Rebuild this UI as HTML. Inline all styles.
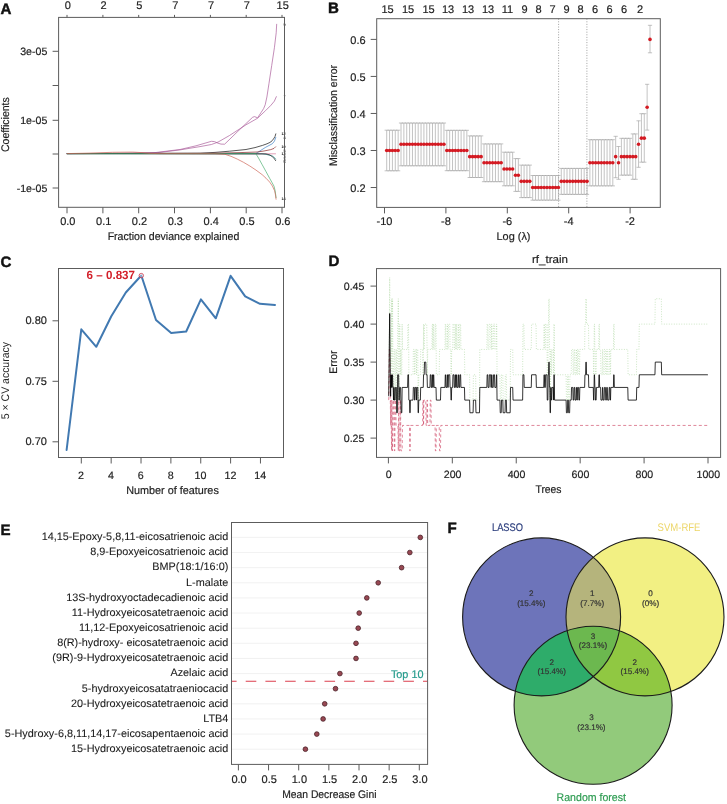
<!DOCTYPE html>
<html lang="en">
<head>
<meta charset="utf-8">
<title>Figure: feature selection by LASSO, SVM-RFE and random forest</title>
<style>
html,body{margin:0;padding:0;background:#ffffff;}
body{width:727px;height:804px;overflow:hidden;}
svg{display:block;font-family:"Liberation Sans", sans-serif;}
svg text{font-family:"Liberation Sans", sans-serif;}
</style>
</head>
<body>
<svg width="727" height="804" viewBox="0 0 727 804" shape-rendering="auto" text-rendering="geometricPrecision">
<rect x="0" y="0" width="727" height="804" fill="#ffffff"/>
<g id="panelA">
<text x="0.5" y="14.2" font-size="15.1" text-anchor="start" fill="#111" font-weight="bold" stroke="#111" stroke-width="0.45">A</text>
<line x1="67" y1="17.4" x2="67" y2="14.9" stroke="#5c5c5c" stroke-width="1"/>
<text x="67.7" y="9.1" font-size="11" text-anchor="middle" fill="#1e1e1e" stroke="#1e1e1e" stroke-width="0.18">0</text>
<line x1="102.9" y1="17.4" x2="102.9" y2="14.9" stroke="#5c5c5c" stroke-width="1"/>
<text x="103.6" y="9.1" font-size="11" text-anchor="middle" fill="#1e1e1e" stroke="#1e1e1e" stroke-width="0.18">2</text>
<line x1="138.7" y1="17.4" x2="138.7" y2="14.9" stroke="#5c5c5c" stroke-width="1"/>
<text x="139.4" y="9.1" font-size="11" text-anchor="middle" fill="#1e1e1e" stroke="#1e1e1e" stroke-width="0.18">5</text>
<line x1="174.5" y1="17.4" x2="174.5" y2="14.9" stroke="#5c5c5c" stroke-width="1"/>
<text x="175.2" y="9.1" font-size="11" text-anchor="middle" fill="#1e1e1e" stroke="#1e1e1e" stroke-width="0.18">7</text>
<line x1="210.4" y1="17.4" x2="210.4" y2="14.9" stroke="#5c5c5c" stroke-width="1"/>
<text x="211.1" y="9.1" font-size="11" text-anchor="middle" fill="#1e1e1e" stroke="#1e1e1e" stroke-width="0.18">7</text>
<line x1="246.2" y1="17.4" x2="246.2" y2="14.9" stroke="#5c5c5c" stroke-width="1"/>
<text x="246.9" y="9.1" font-size="11" text-anchor="middle" fill="#1e1e1e" stroke="#1e1e1e" stroke-width="0.18">7</text>
<line x1="282" y1="17.4" x2="282" y2="14.9" stroke="#5c5c5c" stroke-width="1"/>
<text x="282.7" y="9.1" font-size="11" text-anchor="middle" fill="#1e1e1e" stroke="#1e1e1e" stroke-width="0.18">15</text>
<line x1="67" y1="207.3" x2="67" y2="213.3" stroke="#5c5c5c" stroke-width="1"/>
<text x="67.8" y="224.8" font-size="11" text-anchor="middle" fill="#1e1e1e" stroke="#1e1e1e" stroke-width="0.18">0.0</text>
<line x1="102.9" y1="207.3" x2="102.9" y2="213.3" stroke="#5c5c5c" stroke-width="1"/>
<text x="103.7" y="224.8" font-size="11" text-anchor="middle" fill="#1e1e1e" stroke="#1e1e1e" stroke-width="0.18">0.1</text>
<line x1="138.7" y1="207.3" x2="138.7" y2="213.3" stroke="#5c5c5c" stroke-width="1"/>
<text x="139.5" y="224.8" font-size="11" text-anchor="middle" fill="#1e1e1e" stroke="#1e1e1e" stroke-width="0.18">0.2</text>
<line x1="174.5" y1="207.3" x2="174.5" y2="213.3" stroke="#5c5c5c" stroke-width="1"/>
<text x="175.3" y="224.8" font-size="11" text-anchor="middle" fill="#1e1e1e" stroke="#1e1e1e" stroke-width="0.18">0.3</text>
<line x1="210.4" y1="207.3" x2="210.4" y2="213.3" stroke="#5c5c5c" stroke-width="1"/>
<text x="211.2" y="224.8" font-size="11" text-anchor="middle" fill="#1e1e1e" stroke="#1e1e1e" stroke-width="0.18">0.4</text>
<line x1="246.2" y1="207.3" x2="246.2" y2="213.3" stroke="#5c5c5c" stroke-width="1"/>
<text x="247" y="224.8" font-size="11" text-anchor="middle" fill="#1e1e1e" stroke="#1e1e1e" stroke-width="0.18">0.5</text>
<line x1="282" y1="207.3" x2="282" y2="213.3" stroke="#5c5c5c" stroke-width="1"/>
<text x="282.8" y="224.8" font-size="11" text-anchor="middle" fill="#1e1e1e" stroke="#1e1e1e" stroke-width="0.18">0.6</text>
<line x1="58.6" y1="51.3" x2="52.6" y2="51.3" stroke="#5c5c5c" stroke-width="1"/>
<text x="47.3" y="55.1" font-size="10.6" text-anchor="end" fill="#1e1e1e" stroke="#1e1e1e" stroke-width="0.18">3e-05</text>
<line x1="58.6" y1="85.5" x2="52.6" y2="85.5" stroke="#5c5c5c" stroke-width="1"/>
<line x1="58.6" y1="120.3" x2="52.6" y2="120.3" stroke="#5c5c5c" stroke-width="1"/>
<text x="47.3" y="124.1" font-size="10.6" text-anchor="end" fill="#1e1e1e" stroke="#1e1e1e" stroke-width="0.18">1e-05</text>
<line x1="58.6" y1="154" x2="52.6" y2="154" stroke="#5c5c5c" stroke-width="1"/>
<line x1="58.6" y1="188" x2="52.6" y2="188" stroke="#5c5c5c" stroke-width="1"/>
<text x="47.3" y="191.8" font-size="10.6" text-anchor="end" fill="#1e1e1e" stroke="#1e1e1e" stroke-width="0.18">-1e-05</text>
<text x="173.5" y="239.6" font-size="11" text-anchor="middle" fill="#1e1e1e" textLength="131.7" lengthAdjust="spacingAndGlyphs" stroke="#1e1e1e" stroke-width="0.18">Fraction deviance explained</text>
<text x="9.2" y="124.6" font-size="11" text-anchor="middle" fill="#1e1e1e" transform="rotate(-90 9.2 124.6)" textLength="54.8" lengthAdjust="spacingAndGlyphs" stroke="#1e1e1e" stroke-width="0.18">Coefficients</text>
<path d="M66.8,153.6 L120,153.3 L155,152.6 L180,149.5 L196,145.8 L211.4,141.3 L214.5,141.6 L218,143.2 L221,144.1 L224.6,144.2 L231,138 L237.8,131.4 L245,124.5 L252.6,117.3 L254.5,116.6 L257.6,117.8 L261,112.6 L263.6,108.6 L265.2,104.8 L266.9,97 L269,83.3 L271.7,65.6 L274.4,47.8 L276.2,32.8 L276.7,23.9" fill="none" stroke="#ab5d9b" stroke-width="0.7" stroke-linejoin="round"/>
<path d="M66.8,153.6 L130,153.4 L158,152.6 L180,149.9 L200,146.6 L211.4,144.5 L218,142.1 L229.5,135.5 L246,124.8 L257.6,118.2 L262,114 L265.5,110.7 L271,105.2 L274.4,101.1 L276.5,96.3" fill="none" stroke="#ab5d9b" stroke-width="0.7" stroke-linejoin="round"/>
<path d="M66.8,153.6 L200,153.2 L215,152.4 L229.5,151.2 L246,149.5 L255,147.6 L262.5,145.4 L267,143.8 L270.8,142 L273.5,139 L275,136.5 L275.9,133.5" fill="none" stroke="#111111" stroke-width="0.7" stroke-linejoin="round"/>
<path d="M66.8,153.6 L256,153.4 L257.6,152.5 L262,149.6 L265.8,147.2 L269,145.5 L272.4,143.7 L274.5,141 L275.9,137" fill="none" stroke="#3f7fc4" stroke-width="0.7" stroke-linejoin="round"/>
<path d="M66.8,153.6 L210,153.3 L240,152.6 L257,152 L264,151 L270.8,149.6 L274,148.4 L275.9,146.5" fill="none" stroke="#8a2626" stroke-width="0.7" stroke-linejoin="round"/>
<path d="M66.8,153.6 L270,153.8 L275.9,153.8" fill="none" stroke="#d0608a" stroke-width="0.6" stroke-linejoin="round"/>
<path d="M66.8,153.6 L262,153.8 L267,154.6 L272.4,156 L274.5,157.5 L275.9,159.4" fill="none" stroke="#2a9490" stroke-width="0.7" stroke-linejoin="round"/>
<path d="M66.8,153.6 L266,153.9 L270,155 L273.5,157.6 L275.9,161" fill="none" stroke="#222222" stroke-width="0.7" stroke-linejoin="round"/>
<path d="M66.8,153.8 L255.8,153.6 L258.5,158 L262.2,164.7 L266,171.6 L269.7,178.4 L272,182.5 L274,186.2 L275.2,191 L276.1,198" fill="none" stroke="#40a866" stroke-width="0.65" stroke-linejoin="round"/>
<path d="M66.8,153.6 L90,153.1 L112.6,152.3 L132.7,152.1 L142,152.6 L150,153.4 L160,153.6 L215,153.7 L224.9,154.3 L231,156.3 L237.3,159.1 L243.5,162.3 L249.8,166 L256,170.1 L262.2,174.7 L266,178.2 L269.7,182.1 L272.4,186 L274.6,190.8 L275.5,195 L276.1,199.6" fill="none" stroke="#cf6658" stroke-width="0.7" stroke-linejoin="round"/>
<text x="285.7" y="25.9" font-size="3.8" text-anchor="end" fill="#1e1e1e" font-weight="bold">9</text>
<text x="285.7" y="98.4" font-size="3.8" text-anchor="end" fill="#1e1e1e" font-weight="bold">7</text>
<text x="285.7" y="134.9" font-size="3.8" text-anchor="end" fill="#1e1e1e" font-weight="bold">12</text>
<text x="285.7" y="138.9" font-size="3.8" text-anchor="end" fill="#1e1e1e" font-weight="bold">4</text>
<text x="285.7" y="147.9" font-size="3.8" text-anchor="end" fill="#1e1e1e" font-weight="bold">10</text>
<text x="285.7" y="152.4" font-size="3.8" text-anchor="end" fill="#1e1e1e" font-weight="bold">5</text>
<text x="285.7" y="155" font-size="3.8" text-anchor="end" fill="#1e1e1e" font-weight="bold">13</text>
<text x="285.7" y="157.9" font-size="3.8" text-anchor="end" fill="#1e1e1e" font-weight="bold">3</text>
<text x="285.7" y="160.9" font-size="3.8" text-anchor="end" fill="#1e1e1e" font-weight="bold">2</text>
<text x="285.7" y="163.4" font-size="3.8" text-anchor="end" fill="#1e1e1e" font-weight="bold">6</text>
<text x="285.7" y="200.4" font-size="3.8" text-anchor="end" fill="#1e1e1e" font-weight="bold">14</text>
<rect x="58.6" y="17.4" width="225.9" height="189.9" fill="none" stroke="#5c5c5c" stroke-width="1"/>
</g>
<g id="panelB">
<text x="328" y="13.2" font-size="15.1" text-anchor="start" fill="#111" font-weight="bold" stroke="#111" stroke-width="0.45">B</text>
<text x="387.5" y="13.2" font-size="11" text-anchor="middle" fill="#1e1e1e" stroke="#1e1e1e" stroke-width="0.18">15</text>
<text x="408" y="13.2" font-size="11" text-anchor="middle" fill="#1e1e1e" stroke="#1e1e1e" stroke-width="0.18">15</text>
<text x="428.5" y="13.2" font-size="11" text-anchor="middle" fill="#1e1e1e" stroke="#1e1e1e" stroke-width="0.18">15</text>
<text x="448" y="13.2" font-size="11" text-anchor="middle" fill="#1e1e1e" stroke="#1e1e1e" stroke-width="0.18">13</text>
<text x="468" y="13.2" font-size="11" text-anchor="middle" fill="#1e1e1e" stroke="#1e1e1e" stroke-width="0.18">13</text>
<text x="488" y="13.2" font-size="11" text-anchor="middle" fill="#1e1e1e" stroke="#1e1e1e" stroke-width="0.18">13</text>
<text x="507.5" y="13.2" font-size="11" text-anchor="middle" fill="#1e1e1e" stroke="#1e1e1e" stroke-width="0.18">11</text>
<text x="524.5" y="13.2" font-size="11" text-anchor="middle" fill="#1e1e1e" stroke="#1e1e1e" stroke-width="0.18">9</text>
<text x="538.5" y="13.2" font-size="11" text-anchor="middle" fill="#1e1e1e" stroke="#1e1e1e" stroke-width="0.18">8</text>
<text x="552.5" y="13.2" font-size="11" text-anchor="middle" fill="#1e1e1e" stroke="#1e1e1e" stroke-width="0.18">7</text>
<text x="566.5" y="13.2" font-size="11" text-anchor="middle" fill="#1e1e1e" stroke="#1e1e1e" stroke-width="0.18">9</text>
<text x="580.5" y="13.2" font-size="11" text-anchor="middle" fill="#1e1e1e" stroke="#1e1e1e" stroke-width="0.18">8</text>
<text x="595" y="13.2" font-size="11" text-anchor="middle" fill="#1e1e1e" stroke="#1e1e1e" stroke-width="0.18">6</text>
<text x="609.5" y="13.2" font-size="11" text-anchor="middle" fill="#1e1e1e" stroke="#1e1e1e" stroke-width="0.18">6</text>
<text x="624" y="13.2" font-size="11" text-anchor="middle" fill="#1e1e1e" stroke="#1e1e1e" stroke-width="0.18">6</text>
<text x="640" y="13.2" font-size="11" text-anchor="middle" fill="#1e1e1e" stroke="#1e1e1e" stroke-width="0.18">2</text>
<line x1="384.5" y1="207.4" x2="384.5" y2="213.4" stroke="#5c5c5c" stroke-width="1"/>
<text x="384.5" y="224.5" font-size="11" text-anchor="middle" fill="#1e1e1e" stroke="#1e1e1e" stroke-width="0.18">-10</text>
<line x1="445.9" y1="207.4" x2="445.9" y2="213.4" stroke="#5c5c5c" stroke-width="1"/>
<text x="445.9" y="224.5" font-size="11" text-anchor="middle" fill="#1e1e1e" stroke="#1e1e1e" stroke-width="0.18">-8</text>
<line x1="507.3" y1="207.4" x2="507.3" y2="213.4" stroke="#5c5c5c" stroke-width="1"/>
<text x="507.3" y="224.5" font-size="11" text-anchor="middle" fill="#1e1e1e" stroke="#1e1e1e" stroke-width="0.18">-6</text>
<line x1="568.7" y1="207.4" x2="568.7" y2="213.4" stroke="#5c5c5c" stroke-width="1"/>
<text x="568.7" y="224.5" font-size="11" text-anchor="middle" fill="#1e1e1e" stroke="#1e1e1e" stroke-width="0.18">-4</text>
<line x1="630.1" y1="207.4" x2="630.1" y2="213.4" stroke="#5c5c5c" stroke-width="1"/>
<text x="630.1" y="224.5" font-size="11" text-anchor="middle" fill="#1e1e1e" stroke="#1e1e1e" stroke-width="0.18">-2</text>
<line x1="376.7" y1="39.4" x2="370.7" y2="39.4" stroke="#5c5c5c" stroke-width="1"/>
<text x="365.6" y="43.9" font-size="11" text-anchor="end" fill="#1e1e1e" stroke="#1e1e1e" stroke-width="0.18">0.6</text>
<line x1="376.7" y1="76.43" x2="370.7" y2="76.43" stroke="#5c5c5c" stroke-width="1"/>
<text x="365.6" y="80.93" font-size="11" text-anchor="end" fill="#1e1e1e" stroke="#1e1e1e" stroke-width="0.18">0.5</text>
<line x1="376.7" y1="113.46" x2="370.7" y2="113.46" stroke="#5c5c5c" stroke-width="1"/>
<text x="365.6" y="117.96" font-size="11" text-anchor="end" fill="#1e1e1e" stroke="#1e1e1e" stroke-width="0.18">0.4</text>
<line x1="376.7" y1="150.49" x2="370.7" y2="150.49" stroke="#5c5c5c" stroke-width="1"/>
<text x="365.6" y="154.99" font-size="11" text-anchor="end" fill="#1e1e1e" stroke="#1e1e1e" stroke-width="0.18">0.3</text>
<line x1="376.7" y1="187.52" x2="370.7" y2="187.52" stroke="#5c5c5c" stroke-width="1"/>
<text x="365.6" y="192.02" font-size="11" text-anchor="end" fill="#1e1e1e" stroke="#1e1e1e" stroke-width="0.18">0.2</text>
<text x="513.5" y="239.6" font-size="11" text-anchor="middle" fill="#1e1e1e" textLength="34" lengthAdjust="spacingAndGlyphs" stroke="#1e1e1e" stroke-width="0.18">Log (λ)</text>
<text x="337.3" y="115.5" font-size="11" text-anchor="middle" fill="#1e1e1e" transform="rotate(-90 337.3 115.5)" textLength="101" lengthAdjust="spacingAndGlyphs" stroke="#1e1e1e" stroke-width="0.18">Misclassification error</text>
<line x1="558.6" y1="18.7" x2="558.6" y2="207.4" stroke="#777" stroke-width="0.7" stroke-dasharray="1 1.6"/>
<line x1="586.9" y1="18.7" x2="586.9" y2="207.4" stroke="#777" stroke-width="0.7" stroke-dasharray="1 1.6"/>
<path d="M386.7,130.2V170.8M384.6,130.2h4.2M384.6,170.8h4.2M389.56,130.2V170.8M387.46,130.2h4.2M387.46,170.8h4.2M392.42,130.2V170.8M390.32,130.2h4.2M390.32,170.8h4.2M395.29,130.2V170.8M393.19,130.2h4.2M393.19,170.8h4.2M398.15,130.2V170.8M396.05,130.2h4.2M396.05,170.8h4.2M401.01,123V165.8M398.91,123h4.2M398.91,165.8h4.2M403.87,123V165.8M401.77,123h4.2M401.77,165.8h4.2M406.73,123V165.8M404.63,123h4.2M404.63,165.8h4.2M409.6,123V165.8M407.5,123h4.2M407.5,165.8h4.2M412.46,123V165.8M410.36,123h4.2M410.36,165.8h4.2M415.32,123V165.8M413.22,123h4.2M413.22,165.8h4.2M418.18,123V165.8M416.08,123h4.2M416.08,165.8h4.2M421.04,123V165.8M418.94,123h4.2M418.94,165.8h4.2M423.91,123V165.8M421.81,123h4.2M421.81,165.8h4.2M426.77,123V165.8M424.67,123h4.2M424.67,165.8h4.2M429.63,123V165.8M427.53,123h4.2M427.53,165.8h4.2M432.49,123V165.8M430.39,123h4.2M430.39,165.8h4.2M435.35,123V165.8M433.25,123h4.2M433.25,165.8h4.2M438.22,123V165.8M436.12,123h4.2M436.12,165.8h4.2M441.08,123V165.8M438.98,123h4.2M438.98,165.8h4.2M443.94,123V165.8M441.84,123h4.2M441.84,165.8h4.2M446.8,130.3V170.7M444.7,130.3h4.2M444.7,170.7h4.2M449.66,130.3V170.7M447.56,130.3h4.2M447.56,170.7h4.2M452.53,130.3V170.7M450.43,130.3h4.2M450.43,170.7h4.2M455.39,130.3V170.7M453.29,130.3h4.2M453.29,170.7h4.2M458.25,130.3V170.7M456.15,130.3h4.2M456.15,170.7h4.2M461.11,130.3V170.7M459.01,130.3h4.2M459.01,170.7h4.2M463.97,130.3V170.7M461.87,130.3h4.2M461.87,170.7h4.2M466.84,130.3V170.7M464.74,130.3h4.2M464.74,170.7h4.2M469.7,135.9V177.5M467.6,135.9h4.2M467.6,177.5h4.2M472.56,135.9V177.5M470.46,135.9h4.2M470.46,177.5h4.2M475.42,135.9V177.5M473.32,135.9h4.2M473.32,177.5h4.2M478.28,135.9V177.5M476.18,135.9h4.2M476.18,177.5h4.2M481.15,135.9V177.5M479.05,135.9h4.2M479.05,177.5h4.2M484.01,143.9V181.7M481.91,143.9h4.2M481.91,181.7h4.2M486.87,143.9V181.7M484.77,143.9h4.2M484.77,181.7h4.2M489.73,143.9V181.7M487.63,143.9h4.2M487.63,181.7h4.2M492.59,143.9V181.7M490.49,143.9h4.2M490.49,181.7h4.2M495.46,143.9V181.7M493.36,143.9h4.2M493.36,181.7h4.2M498.32,143.9V181.7M496.22,143.9h4.2M496.22,181.7h4.2M501.18,143.9V181.7M499.08,143.9h4.2M499.08,181.7h4.2M504.04,152.2V185.8M501.94,152.2h4.2M501.94,185.8h4.2M506.9,152.2V185.8M504.8,152.2h4.2M504.8,185.8h4.2M509.77,152.2V185.8M507.67,152.2h4.2M507.67,185.8h4.2M512.63,152.2V185.8M510.53,152.2h4.2M510.53,185.8h4.2M515.49,158.6V191.4M513.39,158.6h4.2M513.39,191.4h4.2M518.35,158.6V191.4M516.25,158.6h4.2M516.25,191.4h4.2M521.21,165.1V197.6M519.11,165.1h4.2M519.11,197.6h4.2M524.08,165.1V197.6M521.98,165.1h4.2M521.98,197.6h4.2M526.94,165.1V197.6M524.84,165.1h4.2M524.84,197.6h4.2M529.8,165.1V197.6M527.7,165.1h4.2M527.7,197.6h4.2M532.66,175.5V200.2M530.56,175.5h4.2M530.56,200.2h4.2M535.52,175.5V200.2M533.42,175.5h4.2M533.42,200.2h4.2M538.39,175.5V200.2M536.29,175.5h4.2M536.29,200.2h4.2M541.25,175.5V200.2M539.15,175.5h4.2M539.15,200.2h4.2M544.11,175.5V200.2M542.01,175.5h4.2M542.01,200.2h4.2M546.97,175.5V200.2M544.87,175.5h4.2M544.87,200.2h4.2M549.83,175.5V200.2M547.73,175.5h4.2M547.73,200.2h4.2M552.7,175.5V200.2M550.6,175.5h4.2M550.6,200.2h4.2M555.56,175.5V200.2M553.46,175.5h4.2M553.46,200.2h4.2M558.42,175.5V200.2M556.32,175.5h4.2M556.32,200.2h4.2M561.28,168.4V194.4M559.18,168.4h4.2M559.18,194.4h4.2M564.14,168.4V194.4M562.04,168.4h4.2M562.04,194.4h4.2M567.01,168.4V194.4M564.91,168.4h4.2M564.91,194.4h4.2M569.87,168.4V194.4M567.77,168.4h4.2M567.77,194.4h4.2M572.73,168.4V194.4M570.63,168.4h4.2M570.63,194.4h4.2M575.59,168.4V194.4M573.49,168.4h4.2M573.49,194.4h4.2M578.45,168.4V194.4M576.35,168.4h4.2M576.35,194.4h4.2M581.32,168.4V194.4M579.22,168.4h4.2M579.22,194.4h4.2M584.18,168.4V194.4M582.08,168.4h4.2M582.08,194.4h4.2M587.04,168.4V194.4M584.94,168.4h4.2M584.94,194.4h4.2M589.9,139.7V185.9M587.8,139.7h4.2M587.8,185.9h4.2M592.76,139.7V185.9M590.66,139.7h4.2M590.66,185.9h4.2M595.63,139.7V185.9M593.53,139.7h4.2M593.53,185.9h4.2M598.49,139.7V185.9M596.39,139.7h4.2M596.39,185.9h4.2M601.35,139.7V185.9M599.25,139.7h4.2M599.25,185.9h4.2M604.21,139.7V185.9M602.11,139.7h4.2M602.11,185.9h4.2M607.07,139.7V185.9M604.97,139.7h4.2M604.97,185.9h4.2M609.94,139.7V185.9M607.84,139.7h4.2M607.84,185.9h4.2M612.8,139.7V185.9M610.7,139.7h4.2M610.7,185.9h4.2M615.66,136.3V177.7M613.56,136.3h4.2M613.56,177.7h4.2M618.52,146.5V179.3M616.42,146.5h4.2M616.42,179.3h4.2M621.38,138.3V175.2M619.28,138.3h4.2M619.28,175.2h4.2M624.25,138.3V175.2M622.15,138.3h4.2M622.15,175.2h4.2M627.11,138.3V175.2M625.01,138.3h4.2M625.01,175.2h4.2M629.97,138.3V175.2M627.87,138.3h4.2M627.87,175.2h4.2M632.83,133.9V179.3M630.73,133.9h4.2M630.73,179.3h4.2M635.69,133.9V179.3M633.59,133.9h4.2M633.59,179.3h4.2M638.56,120.8V167.3M636.46,120.8h4.2M636.46,167.3h4.2M641.42,113.7V162.2M639.32,113.7h4.2M639.32,162.2h4.2M644.28,113.7V162.2M642.18,113.7h4.2M642.18,162.2h4.2M647.14,84.3V130.1M645.04,84.3h4.2M645.04,130.1h4.2M650,25.3V52.8M647.9,25.3h4.2M647.9,52.8h4.2" fill="none" stroke="#9e9e9e" stroke-width="0.62"/>
<g fill="#d41a22">
<circle cx="386.7" cy="150.49" r="1.8"/>
<circle cx="389.56" cy="150.49" r="1.8"/>
<circle cx="392.42" cy="150.49" r="1.8"/>
<circle cx="395.29" cy="150.49" r="1.8"/>
<circle cx="398.15" cy="150.49" r="1.8"/>
<circle cx="401.01" cy="144.31" r="1.8"/>
<circle cx="403.87" cy="144.31" r="1.8"/>
<circle cx="406.73" cy="144.31" r="1.8"/>
<circle cx="409.6" cy="144.31" r="1.8"/>
<circle cx="412.46" cy="144.31" r="1.8"/>
<circle cx="415.32" cy="144.31" r="1.8"/>
<circle cx="418.18" cy="144.31" r="1.8"/>
<circle cx="421.04" cy="144.31" r="1.8"/>
<circle cx="423.91" cy="144.31" r="1.8"/>
<circle cx="426.77" cy="144.31" r="1.8"/>
<circle cx="429.63" cy="144.31" r="1.8"/>
<circle cx="432.49" cy="144.31" r="1.8"/>
<circle cx="435.35" cy="144.31" r="1.8"/>
<circle cx="438.22" cy="144.31" r="1.8"/>
<circle cx="441.08" cy="144.31" r="1.8"/>
<circle cx="443.94" cy="144.31" r="1.8"/>
<circle cx="446.8" cy="150.49" r="1.8"/>
<circle cx="449.66" cy="150.49" r="1.8"/>
<circle cx="452.53" cy="150.49" r="1.8"/>
<circle cx="455.39" cy="150.49" r="1.8"/>
<circle cx="458.25" cy="150.49" r="1.8"/>
<circle cx="461.11" cy="150.49" r="1.8"/>
<circle cx="463.97" cy="150.49" r="1.8"/>
<circle cx="466.84" cy="150.49" r="1.8"/>
<circle cx="469.7" cy="156.67" r="1.8"/>
<circle cx="472.56" cy="156.67" r="1.8"/>
<circle cx="475.42" cy="156.67" r="1.8"/>
<circle cx="478.28" cy="156.67" r="1.8"/>
<circle cx="481.15" cy="156.67" r="1.8"/>
<circle cx="484.01" cy="162.82" r="1.8"/>
<circle cx="486.87" cy="162.82" r="1.8"/>
<circle cx="489.73" cy="162.82" r="1.8"/>
<circle cx="492.59" cy="162.82" r="1.8"/>
<circle cx="495.46" cy="162.82" r="1.8"/>
<circle cx="498.32" cy="162.82" r="1.8"/>
<circle cx="501.18" cy="162.82" r="1.8"/>
<circle cx="504.04" cy="169" r="1.8"/>
<circle cx="506.9" cy="169" r="1.8"/>
<circle cx="509.77" cy="169" r="1.8"/>
<circle cx="512.63" cy="169" r="1.8"/>
<circle cx="515.49" cy="175.19" r="1.8"/>
<circle cx="518.35" cy="175.19" r="1.8"/>
<circle cx="521.21" cy="181.34" r="1.8"/>
<circle cx="524.08" cy="181.34" r="1.8"/>
<circle cx="526.94" cy="181.34" r="1.8"/>
<circle cx="529.8" cy="181.34" r="1.8"/>
<circle cx="532.66" cy="187.52" r="1.8"/>
<circle cx="535.52" cy="187.52" r="1.8"/>
<circle cx="538.39" cy="187.52" r="1.8"/>
<circle cx="541.25" cy="187.52" r="1.8"/>
<circle cx="544.11" cy="187.52" r="1.8"/>
<circle cx="546.97" cy="187.52" r="1.8"/>
<circle cx="549.83" cy="187.52" r="1.8"/>
<circle cx="552.7" cy="187.52" r="1.8"/>
<circle cx="555.56" cy="187.52" r="1.8"/>
<circle cx="558.42" cy="187.52" r="1.8"/>
<circle cx="561.28" cy="181.34" r="1.8"/>
<circle cx="564.14" cy="181.34" r="1.8"/>
<circle cx="567.01" cy="181.34" r="1.8"/>
<circle cx="569.87" cy="181.34" r="1.8"/>
<circle cx="572.73" cy="181.34" r="1.8"/>
<circle cx="575.59" cy="181.34" r="1.8"/>
<circle cx="578.45" cy="181.34" r="1.8"/>
<circle cx="581.32" cy="181.34" r="1.8"/>
<circle cx="584.18" cy="181.34" r="1.8"/>
<circle cx="587.04" cy="181.34" r="1.8"/>
<circle cx="589.9" cy="162.82" r="1.8"/>
<circle cx="592.76" cy="162.82" r="1.8"/>
<circle cx="595.63" cy="162.82" r="1.8"/>
<circle cx="598.49" cy="162.82" r="1.8"/>
<circle cx="601.35" cy="162.82" r="1.8"/>
<circle cx="604.21" cy="162.82" r="1.8"/>
<circle cx="607.07" cy="162.82" r="1.8"/>
<circle cx="609.94" cy="162.82" r="1.8"/>
<circle cx="612.8" cy="162.82" r="1.8"/>
<circle cx="615.66" cy="156.67" r="1.8"/>
<circle cx="618.52" cy="162.82" r="1.8"/>
<circle cx="621.38" cy="156.67" r="1.8"/>
<circle cx="624.25" cy="156.67" r="1.8"/>
<circle cx="627.11" cy="156.67" r="1.8"/>
<circle cx="629.97" cy="156.67" r="1.8"/>
<circle cx="632.83" cy="156.67" r="1.8"/>
<circle cx="635.69" cy="156.67" r="1.8"/>
<circle cx="638.56" cy="144.31" r="1.8"/>
<circle cx="641.42" cy="138.16" r="1.8"/>
<circle cx="644.28" cy="138.16" r="1.8"/>
<circle cx="647.14" cy="107.28" r="1.8"/>
<circle cx="650" cy="39.4" r="1.8"/>
</g>
<rect x="376.7" y="18.7" width="283.6" height="188.7" fill="none" stroke="#5c5c5c" stroke-width="1"/>
</g>
<g id="panelC">
<text x="0.5" y="267" font-size="15.1" text-anchor="start" fill="#111" font-weight="bold" stroke="#111" stroke-width="0.45">C</text>
<line x1="81.3" y1="457.5" x2="81.3" y2="463.5" stroke="#5c5c5c" stroke-width="1"/>
<text x="81.1" y="478.9" font-size="10.7" text-anchor="middle" fill="#1e1e1e" stroke="#1e1e1e" stroke-width="0.18">2</text>
<line x1="111.16" y1="457.5" x2="111.16" y2="463.5" stroke="#5c5c5c" stroke-width="1"/>
<text x="110.96" y="478.9" font-size="10.7" text-anchor="middle" fill="#1e1e1e" stroke="#1e1e1e" stroke-width="0.18">4</text>
<line x1="141.02" y1="457.5" x2="141.02" y2="463.5" stroke="#5c5c5c" stroke-width="1"/>
<text x="140.82" y="478.9" font-size="10.7" text-anchor="middle" fill="#1e1e1e" stroke="#1e1e1e" stroke-width="0.18">6</text>
<line x1="170.88" y1="457.5" x2="170.88" y2="463.5" stroke="#5c5c5c" stroke-width="1"/>
<text x="170.68" y="478.9" font-size="10.7" text-anchor="middle" fill="#1e1e1e" stroke="#1e1e1e" stroke-width="0.18">8</text>
<line x1="200.74" y1="457.5" x2="200.74" y2="463.5" stroke="#5c5c5c" stroke-width="1"/>
<text x="200.54" y="478.9" font-size="10.7" text-anchor="middle" fill="#1e1e1e" stroke="#1e1e1e" stroke-width="0.18">10</text>
<line x1="230.6" y1="457.5" x2="230.6" y2="463.5" stroke="#5c5c5c" stroke-width="1"/>
<text x="230.4" y="478.9" font-size="10.7" text-anchor="middle" fill="#1e1e1e" stroke="#1e1e1e" stroke-width="0.18">12</text>
<line x1="260.46" y1="457.5" x2="260.46" y2="463.5" stroke="#5c5c5c" stroke-width="1"/>
<text x="260.26" y="478.9" font-size="10.7" text-anchor="middle" fill="#1e1e1e" stroke="#1e1e1e" stroke-width="0.18">14</text>
<line x1="58.5" y1="320.8" x2="52.5" y2="320.8" stroke="#5c5c5c" stroke-width="1"/>
<text x="46.9" y="324.2" font-size="11" text-anchor="end" fill="#1e1e1e" stroke="#1e1e1e" stroke-width="0.18">0.80</text>
<line x1="58.5" y1="381.3" x2="52.5" y2="381.3" stroke="#5c5c5c" stroke-width="1"/>
<text x="46.9" y="384.7" font-size="11" text-anchor="end" fill="#1e1e1e" stroke="#1e1e1e" stroke-width="0.18">0.75</text>
<line x1="58.5" y1="441.8" x2="52.5" y2="441.8" stroke="#5c5c5c" stroke-width="1"/>
<text x="46.9" y="445.2" font-size="11" text-anchor="end" fill="#1e1e1e" stroke="#1e1e1e" stroke-width="0.18">0.70</text>
<text x="172.5" y="493.9" font-size="11" text-anchor="middle" fill="#1e1e1e" textLength="92.6" lengthAdjust="spacingAndGlyphs" stroke="#1e1e1e" stroke-width="0.18">Number of features</text>
<text x="9.2" y="380.6" font-size="11" text-anchor="middle" fill="#2a2a2a" transform="rotate(-90 9.2 380.6)" textLength="77.2" lengthAdjust="spacingAndGlyphs" >5 × CV accuracy</text>
<path d="M66.6,450 L81.3,329.3 L96.3,346.8 L111.3,316.3 L125.8,292.5 L141.3,275.5 L156,320 L171.2,333 L186.2,331.5 L200.9,299.3 L215.8,318.3 L230.6,275.8 L245.2,296.3 L260,303.8 L275,305" fill="none" stroke="#4179b1" stroke-width="2" stroke-linejoin="round" stroke-linecap="round"/>
<circle cx="141.3" cy="275.6" r="2.2" fill="#ffffff" fill-opacity="0.35" stroke="#cc3348" stroke-width="0.8"/>
<text x="135" y="278.5" font-size="11.9" text-anchor="end" fill="#d3202a" font-weight="bold" textLength="48.4" lengthAdjust="spacingAndGlyphs">6 – 0.837</text>
<rect x="58.5" y="268.5" width="225" height="189" fill="none" stroke="#5c5c5c" stroke-width="1"/>
</g>
<g id="panelD">
<text x="328.5" y="266.1" font-size="15.1" text-anchor="start" fill="#111" font-weight="bold" stroke="#111" stroke-width="0.45">D</text>
<line x1="388.4" y1="457.4" x2="388.4" y2="463.4" stroke="#5c5c5c" stroke-width="1"/>
<text x="388.7" y="477.7" font-size="10.6" text-anchor="middle" fill="#1e1e1e" stroke="#1e1e1e" stroke-width="0.18">0</text>
<line x1="452.32" y1="457.4" x2="452.32" y2="463.4" stroke="#5c5c5c" stroke-width="1"/>
<text x="452.62" y="477.7" font-size="10.6" text-anchor="middle" fill="#1e1e1e" stroke="#1e1e1e" stroke-width="0.18">200</text>
<line x1="516.24" y1="457.4" x2="516.24" y2="463.4" stroke="#5c5c5c" stroke-width="1"/>
<text x="516.54" y="477.7" font-size="10.6" text-anchor="middle" fill="#1e1e1e" stroke="#1e1e1e" stroke-width="0.18">400</text>
<line x1="580.16" y1="457.4" x2="580.16" y2="463.4" stroke="#5c5c5c" stroke-width="1"/>
<text x="580.46" y="477.7" font-size="10.6" text-anchor="middle" fill="#1e1e1e" stroke="#1e1e1e" stroke-width="0.18">600</text>
<line x1="644.08" y1="457.4" x2="644.08" y2="463.4" stroke="#5c5c5c" stroke-width="1"/>
<text x="644.38" y="477.7" font-size="10.6" text-anchor="middle" fill="#1e1e1e" stroke="#1e1e1e" stroke-width="0.18">800</text>
<line x1="708" y1="457.4" x2="708" y2="463.4" stroke="#5c5c5c" stroke-width="1"/>
<text x="708.3" y="477.7" font-size="10.6" text-anchor="middle" fill="#1e1e1e" stroke="#1e1e1e" stroke-width="0.18">1000</text>
<line x1="376.5" y1="286.1" x2="370.5" y2="286.1" stroke="#5c5c5c" stroke-width="1"/>
<text x="364.4" y="289.7" font-size="10.6" text-anchor="end" fill="#1e1e1e" stroke="#1e1e1e" stroke-width="0.18">0.45</text>
<line x1="376.5" y1="324.1" x2="370.5" y2="324.1" stroke="#5c5c5c" stroke-width="1"/>
<text x="364.4" y="327.7" font-size="10.6" text-anchor="end" fill="#1e1e1e" stroke="#1e1e1e" stroke-width="0.18">0.40</text>
<line x1="376.5" y1="362.1" x2="370.5" y2="362.1" stroke="#5c5c5c" stroke-width="1"/>
<text x="364.4" y="365.7" font-size="10.6" text-anchor="end" fill="#1e1e1e" stroke="#1e1e1e" stroke-width="0.18">0.35</text>
<line x1="376.5" y1="400.1" x2="370.5" y2="400.1" stroke="#5c5c5c" stroke-width="1"/>
<text x="364.4" y="403.7" font-size="10.6" text-anchor="end" fill="#1e1e1e" stroke="#1e1e1e" stroke-width="0.18">0.30</text>
<line x1="376.5" y1="438.1" x2="370.5" y2="438.1" stroke="#5c5c5c" stroke-width="1"/>
<text x="364.4" y="441.7" font-size="10.6" text-anchor="end" fill="#1e1e1e" stroke="#1e1e1e" stroke-width="0.18">0.25</text>
<text x="548.5" y="493.2" font-size="11" text-anchor="middle" fill="#1e1e1e" textLength="26" lengthAdjust="spacingAndGlyphs" stroke="#1e1e1e" stroke-width="0.18">Trees</text>
<text x="337" y="362.1" font-size="11" text-anchor="middle" fill="#1e1e1e" transform="rotate(-90 337 362.1)" textLength="23.2" lengthAdjust="spacingAndGlyphs" stroke="#1e1e1e" stroke-width="0.18">Error</text>
<text x="550" y="262.6" font-size="11" text-anchor="middle" fill="#1e1e1e" textLength="36" lengthAdjust="spacingAndGlyphs" stroke="#1e1e1e" stroke-width="0.18">rf_train</text>
<clipPath id="clipD"><rect x="376.5" y="268.6" width="344.1" height="188.79999999999995"/></clipPath>
<g clip-path="url(#clipD)">
<path d="M388.72,392.5 L389.04,364.61 L389.36,329.19 L389.68,277.51 L390,319.01 L390.32,349.48 L390.64,367.19 L390.96,349.48 L391.28,349.41 L391.6,298.79 L391.92,374.72 L392.24,324.18 L392.55,298.79 L392.87,349.41 L393.19,374.72 L393.51,400.1 L393.83,374.77 L394.15,349.43 L394.79,349.43 L395.11,400.1 L395.43,374.77 L395.75,374.77 L396.07,349.43 L396.39,349.43 L396.71,400.1 L397.35,400.1 L397.67,324.1 L397.99,324.1 L398.31,298.77 L398.63,349.43 L398.95,400.1 L399.27,349.43 L399.59,324.1 L399.91,324.1 L400.23,374.77 L400.54,374.77 L400.86,349.43 L401.18,374.77 L401.82,374.77 L402.14,324.1 L402.46,349.43 L407.58,349.43 L407.9,324.1 L408.53,324.1 L408.85,374.77 L413.01,374.77 L413.33,349.43 L414.29,349.43 L414.61,374.77 L414.93,374.77 L415.25,349.43 L416.21,349.43 L416.52,374.77 L416.84,349.43 L417.8,349.43 L418.12,400.1 L418.44,400.1 L418.76,374.77 L420.36,374.77 L420.68,349.43 L422.6,349.43 L422.92,374.77 L423.24,374.77 L423.56,324.1 L423.88,349.43 L424.2,349.43 L424.51,324.1 L426.75,324.1 L427.07,349.43 L427.39,374.77 L427.71,349.43 L431.87,349.43 L432.19,324.1 L432.5,324.1 L432.82,349.43 L433.14,349.43 L433.46,324.1 L433.78,324.1 L434.1,349.43 L435.06,349.43 L435.38,324.1 L436.02,324.1 L436.34,374.77 L439.22,374.77 L439.54,349.43 L444.97,349.43 L445.29,324.1 L445.61,324.1 L445.93,349.43 L446.89,349.43 L447.21,324.1 L447.53,324.1 L447.85,349.43 L448.17,349.43 L448.48,324.1 L449.76,324.1 L450.08,349.43 L450.72,349.43 L451.04,374.77 L451.36,374.77 L451.68,349.43 L452.64,349.43 L452.96,324.1 L453.92,324.1 L454.24,349.43 L454.88,349.43 L455.2,324.1 L455.52,324.1 L455.84,349.43 L456.16,349.43 L456.47,324.1 L456.79,324.1 L457.11,349.43 L458.07,349.43 L458.39,324.1 L458.71,324.1 L459.03,349.43 L459.67,349.43 L459.99,324.1 L460.63,324.1 L460.95,349.43 L464.46,349.43 L464.78,374.77 L469.58,374.77 L469.9,400.1 L473.09,400.1 L473.41,374.77 L475.65,374.77 L475.97,400.1 L479.49,400.1 L479.81,349.43 L486.84,349.43 L487.16,324.1 L487.8,324.1 L488.12,349.43 L489.07,349.43 L489.39,324.1 L490.67,324.1 L490.99,349.43 L491.31,349.43 L491.63,324.1 L491.95,324.1 L492.27,349.43 L493.23,349.43 L493.55,324.1 L494.51,324.1 L494.83,349.43 L496.11,349.43 L496.42,324.1 L496.74,324.1 L497.06,374.77 L499.94,374.77 L500.26,400.1 L501.22,400.1 L501.54,374.77 L502.82,374.77 L503.14,400.1 L505.05,400.1 L505.37,374.77 L506.33,374.77 L506.65,400.1 L510.17,400.1 L510.49,349.43 L512.72,349.43 L513.04,374.77 L522.63,374.77 L522.95,324.1 L523.91,324.1 L524.23,349.43 L531.26,349.43 L531.58,324.1 L536.06,324.1 L536.37,349.43 L543.73,349.43 L544.05,324.1 L544.36,324.1 L544.68,349.43 L545.32,349.43 L545.64,324.1 L546.92,324.1 L547.24,374.77 L547.88,374.77 L548.2,324.1 L548.52,324.1 L548.84,298.77 L549.16,298.77 L549.48,349.43 L549.8,349.43 L550.12,400.1 L550.44,400.1 L550.76,349.43 L551.08,349.43 L551.4,374.77 L551.72,374.77 L552.04,349.43 L553.31,349.43 L553.63,374.77 L553.95,324.1 L554.27,324.1 L554.59,374.77 L566.1,374.77 L566.42,400.1 L567.38,400.1 L567.7,374.77 L568.33,374.77 L568.65,400.1 L569.61,400.1 L569.93,374.77 L571.21,374.77 L571.53,349.43 L572.81,349.43 L573.13,374.77 L573.77,374.77 L574.09,349.43 L574.73,349.43 L575.05,374.77 L576.01,374.77 L576.32,349.43 L576.64,349.43 L576.96,374.77 L577.28,374.77 L577.6,349.43 L578.56,349.43 L578.88,374.77 L579.52,374.77 L579.84,349.43 L584.63,349.43 L584.95,324.1 L585.59,324.1 L585.91,298.77 L586.23,298.77 L586.55,324.1 L588.47,324.1 L588.79,349.43 L593.26,349.43 L593.58,374.77 L593.9,374.77 L594.22,324.1 L594.54,324.1 L594.86,349.43 L595.18,349.43 L595.5,374.77 L596.14,374.77 L596.46,349.43 L598.7,349.43 L599.02,324.1 L599.34,324.1 L599.66,349.43 L600.61,349.43 L600.93,374.77 L602.21,374.77 L602.53,349.43 L602.85,349.43 L603.17,374.77 L604.13,374.77 L604.45,349.43 L605.41,349.43 L605.73,374.77 L606.37,374.77 L606.69,349.43 L607.33,349.43 L607.65,374.77 L608.92,374.77 L609.24,349.43 L609.88,349.43 L610.2,374.77 L610.52,374.77 L610.84,349.43 L613.4,349.43 L613.72,324.1 L614.04,324.1 L614.36,349.43 L627.78,349.43 L628.1,374.77 L636.41,374.77 L636.73,349.43 L638.97,349.43 L639.29,324.1 L654.95,324.1 L655.27,298.77 L661.34,298.77 L661.66,324.1 L707.68,324.1 L708,324.1" fill="none" stroke="#9ccf8d" stroke-width="0.7" stroke-dasharray="0.9 1.6" stroke-opacity="0.8"/>
<path d="M388.72,400.1 L389.04,374.79 L389.36,349.41 L389.68,349.41 L390,374.79 L390.32,400.1 L390.64,425.41 L390.96,400.1 L391.28,425.41 L391.6,450.79 L391.92,400.1 L392.24,425.41 L392.55,450.79 L392.87,425.41 L393.19,400.1 L393.83,400.1 L394.15,425.43 L394.47,450.77 L394.79,450.77 L395.11,400.1 L395.75,400.1 L396.07,425.43 L397.99,425.43 L398.31,450.77 L398.63,400.1 L398.95,400.1 L399.27,450.77 L399.91,450.77 L400.23,400.1 L400.54,400.1 L400.86,450.77 L402.14,450.77 L402.46,425.43 L409.49,425.43 L409.81,450.77 L410.13,450.77 L410.45,425.43 L422.6,425.43 L422.92,400.1 L423.24,400.1 L423.56,425.43 L423.88,400.1 L425.79,400.1 L426.11,425.43 L426.75,425.43 L427.07,400.1 L427.39,400.1 L427.71,425.43 L429.95,425.43 L430.27,400.1 L430.91,400.1 L431.23,425.43 L435.06,425.43 L435.38,450.77 L436.02,450.77 L436.34,425.43 L439.22,425.43 L439.54,450.77 L440.49,450.77 L440.81,425.43 L707.68,425.43 L708,425.43" fill="none" stroke="#cc3f60" stroke-width="0.7" stroke-dasharray="3 2.4" stroke-opacity="0.9"/>
<path d="M388.72,396.3 L389.04,369.7 L389.36,339.3 L389.68,313.46 L390,346.9 L390.32,374.79 L390.64,396.3 L390.96,374.79 L391.28,387.41 L391.6,374.79 L391.92,387.41 L392.24,374.79 L392.55,374.79 L392.87,387.41 L393.19,387.41 L393.51,400.1 L393.83,387.43 L394.15,387.43 L394.47,400.1 L395.11,400.1 L395.43,387.43 L396.39,387.43 L396.71,412.77 L397.35,412.77 L397.67,374.77 L398.63,374.77 L398.95,400.1 L399.27,400.1 L399.59,387.43 L400.54,387.43 L400.86,400.1 L401.18,412.77 L401.82,412.77 L402.14,387.43 L407.58,387.43 L407.9,374.77 L408.53,374.77 L408.85,400.1 L409.49,400.1 L409.81,412.77 L410.13,412.77 L410.45,400.1 L413.01,400.1 L413.33,387.43 L414.29,387.43 L414.61,400.1 L414.93,400.1 L415.25,387.43 L416.21,387.43 L416.52,400.1 L416.84,387.43 L417.8,387.43 L418.12,412.77 L418.44,412.77 L418.76,400.1 L420.36,400.1 L420.68,387.43 L423.24,387.43 L423.56,374.77 L424.2,374.77 L424.51,362.1 L425.79,362.1 L426.11,374.77 L427.07,374.77 L427.39,387.43 L429.95,387.43 L430.27,374.77 L430.91,374.77 L431.23,387.43 L431.87,387.43 L432.19,374.77 L432.5,374.77 L432.82,387.43 L433.14,387.43 L433.46,374.77 L433.78,374.77 L434.1,387.43 L436.02,387.43 L436.34,400.1 L440.49,400.1 L440.81,387.43 L444.97,387.43 L445.29,374.77 L445.61,374.77 L445.93,387.43 L446.89,387.43 L447.21,374.77 L447.53,374.77 L447.85,387.43 L448.17,387.43 L448.48,374.77 L449.76,374.77 L450.08,387.43 L450.72,387.43 L451.04,400.1 L451.36,400.1 L451.68,387.43 L452.64,387.43 L452.96,374.77 L453.92,374.77 L454.24,387.43 L454.88,387.43 L455.2,374.77 L455.52,374.77 L455.84,387.43 L456.16,387.43 L456.47,374.77 L456.79,374.77 L457.11,387.43 L458.07,387.43 L458.39,374.77 L458.71,374.77 L459.03,387.43 L459.67,387.43 L459.99,374.77 L460.63,374.77 L460.95,387.43 L464.46,387.43 L464.78,400.1 L469.58,400.1 L469.9,412.77 L473.09,412.77 L473.41,400.1 L475.65,400.1 L475.97,412.77 L479.49,412.77 L479.81,387.43 L486.84,387.43 L487.16,374.77 L487.8,374.77 L488.12,387.43 L489.07,387.43 L489.39,374.77 L490.67,374.77 L490.99,387.43 L491.31,387.43 L491.63,374.77 L491.95,374.77 L492.27,387.43 L493.23,387.43 L493.55,374.77 L494.51,374.77 L494.83,387.43 L496.11,387.43 L496.42,374.77 L496.74,374.77 L497.06,400.1 L499.94,400.1 L500.26,412.77 L501.22,412.77 L501.54,400.1 L502.82,400.1 L503.14,412.77 L505.05,412.77 L505.37,400.1 L506.33,400.1 L506.65,412.77 L510.17,412.77 L510.49,387.43 L512.72,387.43 L513.04,400.1 L522.63,400.1 L522.95,374.77 L523.91,374.77 L524.23,387.43 L531.26,387.43 L531.58,374.77 L536.06,374.77 L536.37,387.43 L543.73,387.43 L544.05,374.77 L544.36,374.77 L544.68,387.43 L545.32,387.43 L545.64,374.77 L546.92,374.77 L547.24,400.1 L547.88,400.1 L548.2,374.77 L548.52,374.77 L548.84,362.1 L549.16,362.1 L549.48,387.43 L549.8,387.43 L550.12,412.77 L550.44,412.77 L550.76,387.43 L551.08,387.43 L551.4,400.1 L551.72,400.1 L552.04,387.43 L553.31,387.43 L553.63,400.1 L553.95,374.77 L554.27,374.77 L554.59,400.1 L566.1,400.1 L566.42,412.77 L567.38,412.77 L567.7,400.1 L568.33,400.1 L568.65,412.77 L569.61,412.77 L569.93,400.1 L571.21,400.1 L571.53,387.43 L572.81,387.43 L573.13,400.1 L573.77,400.1 L574.09,387.43 L574.73,387.43 L575.05,400.1 L576.01,400.1 L576.32,387.43 L576.64,387.43 L576.96,400.1 L577.28,400.1 L577.6,387.43 L578.56,387.43 L578.88,400.1 L579.52,400.1 L579.84,387.43 L584.63,387.43 L584.95,374.77 L585.59,374.77 L585.91,362.1 L586.23,362.1 L586.55,374.77 L588.47,374.77 L588.79,387.43 L593.26,387.43 L593.58,400.1 L593.9,400.1 L594.22,374.77 L594.54,374.77 L594.86,387.43 L595.18,387.43 L595.5,400.1 L596.14,400.1 L596.46,387.43 L598.7,387.43 L599.02,374.77 L599.34,374.77 L599.66,387.43 L600.61,387.43 L600.93,400.1 L602.21,400.1 L602.53,387.43 L602.85,387.43 L603.17,400.1 L604.13,400.1 L604.45,387.43 L605.41,387.43 L605.73,400.1 L606.37,400.1 L606.69,387.43 L607.33,387.43 L607.65,400.1 L608.92,400.1 L609.24,387.43 L609.88,387.43 L610.2,400.1 L610.52,400.1 L610.84,387.43 L613.4,387.43 L613.72,374.77 L614.04,374.77 L614.36,387.43 L627.78,387.43 L628.1,400.1 L636.41,400.1 L636.73,387.43 L638.97,387.43 L639.29,374.77 L654.95,374.77 L655.27,362.1 L661.34,362.1 L661.66,374.77 L707.68,374.77 L708,374.77" fill="none" stroke="#000000" stroke-width="0.8"/>
</g>
<rect x="376.5" y="268.6" width="344.1" height="188.8" fill="none" stroke="#5c5c5c" stroke-width="1"/>
</g>
<g id="panelE">
<text x="0.5" y="535" font-size="15.1" text-anchor="start" fill="#111" font-weight="bold" stroke="#111" stroke-width="0.45">E</text>
<line x1="231.5" y1="537.4" x2="427.6" y2="537.4" stroke="#ededed" stroke-width="0.8"/>
<line x1="231.5" y1="552.53" x2="427.6" y2="552.53" stroke="#ededed" stroke-width="0.8"/>
<line x1="231.5" y1="567.66" x2="427.6" y2="567.66" stroke="#ededed" stroke-width="0.8"/>
<line x1="231.5" y1="582.79" x2="427.6" y2="582.79" stroke="#ededed" stroke-width="0.8"/>
<line x1="231.5" y1="597.92" x2="427.6" y2="597.92" stroke="#ededed" stroke-width="0.8"/>
<line x1="231.5" y1="613.05" x2="427.6" y2="613.05" stroke="#ededed" stroke-width="0.8"/>
<line x1="231.5" y1="628.18" x2="427.6" y2="628.18" stroke="#ededed" stroke-width="0.8"/>
<line x1="231.5" y1="643.31" x2="427.6" y2="643.31" stroke="#ededed" stroke-width="0.8"/>
<line x1="231.5" y1="658.44" x2="427.6" y2="658.44" stroke="#ededed" stroke-width="0.8"/>
<line x1="231.5" y1="673.57" x2="427.6" y2="673.57" stroke="#ededed" stroke-width="0.8"/>
<line x1="231.5" y1="688.7" x2="427.6" y2="688.7" stroke="#ededed" stroke-width="0.8"/>
<line x1="231.5" y1="703.83" x2="427.6" y2="703.83" stroke="#ededed" stroke-width="0.8"/>
<line x1="231.5" y1="718.96" x2="427.6" y2="718.96" stroke="#ededed" stroke-width="0.8"/>
<line x1="231.5" y1="734.09" x2="427.6" y2="734.09" stroke="#ededed" stroke-width="0.8"/>
<line x1="231.5" y1="749.22" x2="427.6" y2="749.22" stroke="#ededed" stroke-width="0.8"/>
<text x="228.3" y="540.2" font-size="10.85" text-anchor="end" fill="#1a1a1a" stroke="#1a1a1a" stroke-width="0.08">14,15-Epoxy-5,8,11-eicosatrienoic acid</text>
<circle cx="420.3" cy="537.4" r="2.35" fill="#984853" stroke="#4a2228" stroke-width="0.8"/>
<text x="228.3" y="555.33" font-size="10.85" text-anchor="end" fill="#1a1a1a" stroke="#1a1a1a" stroke-width="0.08">8,9-Epoxyeicosatrienoic acid</text>
<circle cx="409.8" cy="552.53" r="2.35" fill="#984853" stroke="#4a2228" stroke-width="0.8"/>
<text x="228.3" y="570.46" font-size="10.85" text-anchor="end" fill="#1a1a1a" stroke="#1a1a1a" stroke-width="0.08">BMP(18:1/16:0)</text>
<circle cx="401.6" cy="567.66" r="2.35" fill="#984853" stroke="#4a2228" stroke-width="0.8"/>
<text x="228.3" y="585.59" font-size="10.85" text-anchor="end" fill="#1a1a1a" stroke="#1a1a1a" stroke-width="0.08">L-malate</text>
<circle cx="378.2" cy="582.79" r="2.35" fill="#984853" stroke="#4a2228" stroke-width="0.8"/>
<text x="228.3" y="600.72" font-size="10.85" text-anchor="end" fill="#1a1a1a" stroke="#1a1a1a" stroke-width="0.08">13S-hydroxyoctadecadienoic acid</text>
<circle cx="366.8" cy="597.92" r="2.35" fill="#984853" stroke="#4a2228" stroke-width="0.8"/>
<text x="228.3" y="615.85" font-size="10.85" text-anchor="end" fill="#1a1a1a" stroke="#1a1a1a" stroke-width="0.08">11-Hydroxyeicosatetraenoic acid</text>
<circle cx="359.2" cy="613.05" r="2.35" fill="#984853" stroke="#4a2228" stroke-width="0.8"/>
<text x="228.3" y="630.98" font-size="10.85" text-anchor="end" fill="#1a1a1a" stroke="#1a1a1a" stroke-width="0.08">11,12-Epoxyeicosatrienoic acid</text>
<circle cx="358.2" cy="628.18" r="2.35" fill="#984853" stroke="#4a2228" stroke-width="0.8"/>
<text x="228.3" y="646.11" font-size="10.85" text-anchor="end" fill="#1a1a1a" stroke="#1a1a1a" stroke-width="0.08">8(R)-hydroxy- eicosatetraenoic acid</text>
<circle cx="356" cy="643.31" r="2.35" fill="#984853" stroke="#4a2228" stroke-width="0.8"/>
<text x="228.3" y="661.24" font-size="10.85" text-anchor="end" fill="#1a1a1a" stroke="#1a1a1a" stroke-width="0.08">(9R)-9-Hydroxyeicosatetraenoic acid</text>
<circle cx="356" cy="658.44" r="2.35" fill="#984853" stroke="#4a2228" stroke-width="0.8"/>
<text x="228.3" y="676.37" font-size="10.85" text-anchor="end" fill="#1a1a1a" stroke="#1a1a1a" stroke-width="0.08">Azelaic acid</text>
<circle cx="339.9" cy="673.57" r="2.35" fill="#984853" stroke="#4a2228" stroke-width="0.8"/>
<text x="228.3" y="691.5" font-size="10.85" text-anchor="end" fill="#1a1a1a" stroke="#1a1a1a" stroke-width="0.08">5-hydroxyeicosatatraeniocacid</text>
<circle cx="335.5" cy="688.7" r="2.35" fill="#984853" stroke="#4a2228" stroke-width="0.8"/>
<text x="228.3" y="706.63" font-size="10.85" text-anchor="end" fill="#1a1a1a" stroke="#1a1a1a" stroke-width="0.08">20-Hydroxyeicosatetraenoic acid</text>
<circle cx="324.7" cy="703.83" r="2.35" fill="#984853" stroke="#4a2228" stroke-width="0.8"/>
<text x="228.3" y="721.76" font-size="10.85" text-anchor="end" fill="#1a1a1a" stroke="#1a1a1a" stroke-width="0.08">LTB4</text>
<circle cx="323.1" cy="718.96" r="2.35" fill="#984853" stroke="#4a2228" stroke-width="0.8"/>
<text x="228.3" y="736.89" font-size="10.85" text-anchor="end" fill="#1a1a1a" stroke="#1a1a1a" stroke-width="0.08">5-Hydroxy-6,8,11,14,17-eicosapentaenoic acid</text>
<circle cx="316.8" cy="734.09" r="2.35" fill="#984853" stroke="#4a2228" stroke-width="0.8"/>
<text x="228.3" y="752.02" font-size="10.85" text-anchor="end" fill="#1a1a1a" stroke="#1a1a1a" stroke-width="0.08">15-Hydroxyeicosatetraenoic acid</text>
<circle cx="305.4" cy="749.22" r="2.35" fill="#984853" stroke="#4a2228" stroke-width="0.8"/>
<line x1="231.5" y1="681.2" x2="427.6" y2="681.2" stroke="#dc3f4d" stroke-width="1.1" stroke-dasharray="10.6 9.1" stroke-dashoffset="5.5"/>
<text x="407.2" y="678.2" font-size="11" text-anchor="middle" fill="#259b8c" textLength="32.6" lengthAdjust="spacingAndGlyphs" stroke="#259b8c" stroke-width="0.18">Top 10</text>
<line x1="238.4" y1="764.4" x2="238.4" y2="770.4" stroke="#5c5c5c" stroke-width="1"/>
<text x="239.1" y="783.4" font-size="11" text-anchor="middle" fill="#1e1e1e" stroke="#1e1e1e" stroke-width="0.18">0.0</text>
<line x1="268.55" y1="764.4" x2="268.55" y2="770.4" stroke="#5c5c5c" stroke-width="1"/>
<text x="269.25" y="783.4" font-size="11" text-anchor="middle" fill="#1e1e1e" stroke="#1e1e1e" stroke-width="0.18">0.5</text>
<line x1="298.7" y1="764.4" x2="298.7" y2="770.4" stroke="#5c5c5c" stroke-width="1"/>
<text x="299.4" y="783.4" font-size="11" text-anchor="middle" fill="#1e1e1e" stroke="#1e1e1e" stroke-width="0.18">1.0</text>
<line x1="328.85" y1="764.4" x2="328.85" y2="770.4" stroke="#5c5c5c" stroke-width="1"/>
<text x="329.55" y="783.4" font-size="11" text-anchor="middle" fill="#1e1e1e" stroke="#1e1e1e" stroke-width="0.18">1.5</text>
<line x1="359" y1="764.4" x2="359" y2="770.4" stroke="#5c5c5c" stroke-width="1"/>
<text x="359.7" y="783.4" font-size="11" text-anchor="middle" fill="#1e1e1e" stroke="#1e1e1e" stroke-width="0.18">2.0</text>
<line x1="389.15" y1="764.4" x2="389.15" y2="770.4" stroke="#5c5c5c" stroke-width="1"/>
<text x="389.85" y="783.4" font-size="11" text-anchor="middle" fill="#1e1e1e" stroke="#1e1e1e" stroke-width="0.18">2.5</text>
<line x1="419.3" y1="764.4" x2="419.3" y2="770.4" stroke="#5c5c5c" stroke-width="1"/>
<text x="420" y="783.4" font-size="11" text-anchor="middle" fill="#1e1e1e" stroke="#1e1e1e" stroke-width="0.18">3.0</text>
<text x="329.3" y="797.5" font-size="11" text-anchor="middle" fill="#1e1e1e" textLength="94.3" lengthAdjust="spacingAndGlyphs" stroke="#1e1e1e" stroke-width="0.18">Mean Decrease Gini</text>
<rect x="231.5" y="522.5" width="196.1" height="241.9" fill="none" stroke="#5c5c5c" stroke-width="1"/>
</g>
<g id="panelF">
<text x="447.6" y="533.3" font-size="15.1" text-anchor="start" fill="#111" font-weight="bold" stroke="#111" stroke-width="0.45">F</text>
<defs>
<clipPath id="cA"><circle cx="541.6" cy="616.9" r="79"/></clipPath>
<clipPath id="cB"><circle cx="645" cy="616.9" r="79"/></clipPath>
<clipPath id="cC"><circle cx="593.1" cy="705.2" r="79"/></clipPath>
</defs>
<circle cx="541.6" cy="616.9" r="79" fill="#6d74ba"/>
<circle cx="645" cy="616.9" r="79" fill="#f2f083"/>
<circle cx="593.1" cy="705.2" r="79" fill="#92ca7b"/>
<circle cx="645" cy="616.9" r="79" fill="#b5b47c" clip-path="url(#cA)"/>
<circle cx="593.1" cy="705.2" r="79" fill="#2eac6a" clip-path="url(#cA)"/>
<circle cx="593.1" cy="705.2" r="79" fill="#90c842" clip-path="url(#cB)"/>
<g clip-path="url(#cB)"><circle cx="593.1" cy="705.2" r="79" fill="#6cb84f" clip-path="url(#cA)"/></g>
<circle cx="541.6" cy="616.9" r="79" fill="none" stroke="#1c1c1c" stroke-width="1.1"/>
<circle cx="645" cy="616.9" r="79" fill="none" stroke="#1c1c1c" stroke-width="1.1"/>
<circle cx="593.1" cy="705.2" r="79" fill="none" stroke="#1c1c1c" stroke-width="1.1"/>
<text x="507.5" y="531" font-size="11" text-anchor="middle" fill="#2a3c7c" textLength="31" lengthAdjust="spacingAndGlyphs" stroke="#2a3c7c" stroke-width="0.18">LASSO</text>
<text x="679" y="531" font-size="11" text-anchor="middle" fill="#ecd668" textLength="42.9" lengthAdjust="spacingAndGlyphs" >SVM-RFE</text>
<text x="591.3" y="800.8" font-size="11" text-anchor="middle" fill="#2e9c52" textLength="69.4" lengthAdjust="spacingAndGlyphs" stroke="#2e9c52" stroke-width="0.18">Random forest</text>
<text x="531.3" y="596" font-size="8.1" text-anchor="middle" fill="#333" stroke="#333" stroke-width="0.18">2</text>
<text x="531.3" y="605.6" font-size="8.1" text-anchor="middle" fill="#333" stroke="#333" stroke-width="0.18">(15.4%)</text>
<text x="592.2" y="596" font-size="8.1" text-anchor="middle" fill="#333" stroke="#333" stroke-width="0.18">1</text>
<text x="592.2" y="605.6" font-size="8.1" text-anchor="middle" fill="#333" stroke="#333" stroke-width="0.18">(7.7%)</text>
<text x="650.6" y="596" font-size="8.1" text-anchor="middle" fill="#333" stroke="#333" stroke-width="0.18">0</text>
<text x="650.6" y="605.6" font-size="8.1" text-anchor="middle" fill="#333" stroke="#333" stroke-width="0.18">(0%)</text>
<text x="593" y="638.7" font-size="8.1" text-anchor="middle" fill="#333" stroke="#333" stroke-width="0.18">3</text>
<text x="593" y="648.3" font-size="8.1" text-anchor="middle" fill="#333" stroke="#333" stroke-width="0.18">(23.1%)</text>
<text x="551.7" y="664.8" font-size="8.1" text-anchor="middle" fill="#333" stroke="#333" stroke-width="0.18">2</text>
<text x="551.7" y="674.4" font-size="8.1" text-anchor="middle" fill="#333" stroke="#333" stroke-width="0.18">(15.4%)</text>
<text x="634.7" y="664.8" font-size="8.1" text-anchor="middle" fill="#333" stroke="#333" stroke-width="0.18">2</text>
<text x="634.7" y="674.4" font-size="8.1" text-anchor="middle" fill="#333" stroke="#333" stroke-width="0.18">(15.4%)</text>
<text x="591.4" y="720.3" font-size="8.1" text-anchor="middle" fill="#333" stroke="#333" stroke-width="0.18">3</text>
<text x="591.4" y="729.9" font-size="8.1" text-anchor="middle" fill="#333" stroke="#333" stroke-width="0.18">(23.1%)</text>
</g>
</svg>
</body>
</html>
